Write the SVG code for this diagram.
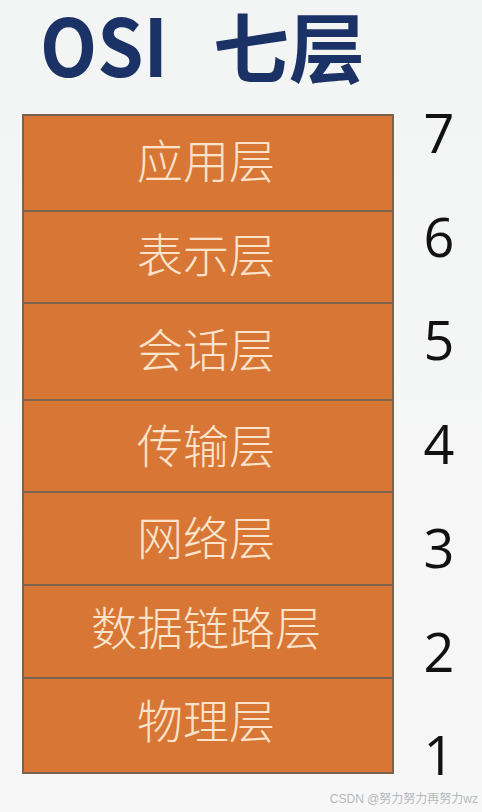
<svg xmlns="http://www.w3.org/2000/svg" width="482" height="812" viewBox="0 0 482 812">
<defs>
<linearGradient id="bg" x1="0" y1="0" x2="0" y2="1">
<stop offset="0" stop-color="#f3f4f4"/>
<stop offset="1" stop-color="#f7f7f7"/>
</linearGradient>
</defs>
<style>
.box{fill:#d87635;stroke:#7c6350;stroke-width:2}
.lbl{font-family:"Noto Sans CJK SC","Noto Sans",sans-serif;font-size:46px;font-weight:300;fill:#fbe3cc;text-anchor:middle}
.num{font-family:"Open Sans","Liberation Sans",sans-serif;font-size:54px;fill:#111;text-anchor:middle}
.title{font-family:"Noto Sans CJK SC","Liberation Sans",sans-serif;font-weight:700;fill:#1b3266}
.wm{font-family:"Liberation Sans","Noto Sans CJK SC",sans-serif;font-size:12px;fill:#b4b8bc;text-anchor:end}
</style>
<rect x="0" y="0" width="482" height="812" fill="url(#bg)"/>
<g id="title">
<text class="title" x="40" y="77" font-size="80" textLength="128" lengthAdjust="spacingAndGlyphs">OSI</text>
<text class="title" x="213" y="77" font-size="76">七层</text>
</g>
<g id="layer7"><rect class="box" x="23" y="115" width="370" height="96"/><text class="lbl" x="206" y="178">应用层</text></g>
<g id="layer6"><rect class="box" x="23" y="211" width="370" height="92"/><text class="lbl" x="206" y="272">表示层</text></g>
<g id="layer5"><rect class="box" x="23" y="303" width="370" height="97"/><text class="lbl" x="206" y="367">会话层</text></g>
<g id="layer4"><rect class="box" x="23" y="400" width="370" height="92"/><text class="lbl" x="206" y="463">传输层</text></g>
<g id="layer3"><rect class="box" x="23" y="492" width="370" height="93"/><text class="lbl" x="206" y="555">网络层</text></g>
<g id="layer2"><rect class="box" x="23" y="585" width="370" height="93"/><text class="lbl" x="206" y="645">数据链路层</text></g>
<g id="layer1"><rect class="box" x="23" y="678" width="370" height="95"/><text class="lbl" x="206" y="738">物理层</text></g>
<g id="numbers">
<text class="num" x="439" y="153">7</text>
<text class="num" x="439" y="257">6</text>
<text class="num" x="439" y="360">5</text>
<text class="num" x="439" y="464">4</text>
<text class="num" x="439" y="568">3</text>
<text class="num" x="439" y="672">2</text>
<text class="num" x="439" y="775">1</text>
</g>
<g id="connectors"></g>
<text class="wm" x="478" y="803">CSDN @努力努力再努力wz</text>
</svg>
